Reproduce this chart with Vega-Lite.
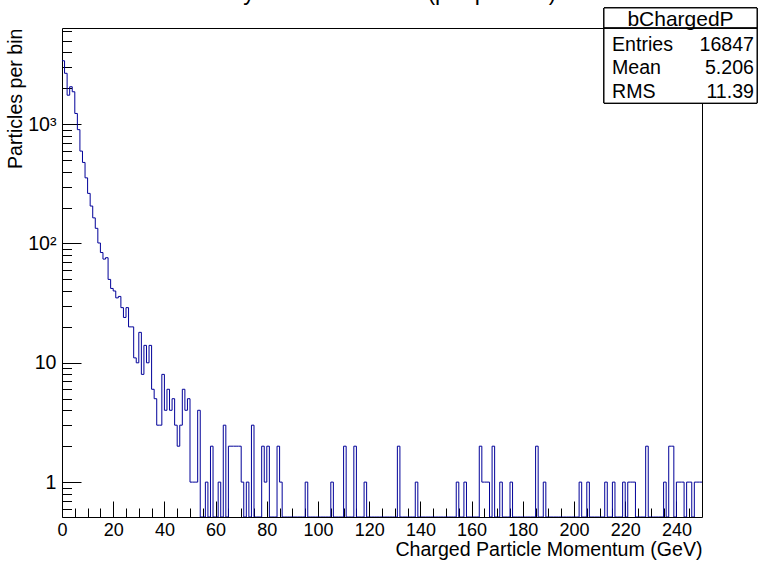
{
  "$schema": "https://vega.github.io/schema/vega-lite/v6.json",
  "width": 640,
  "height": 489,
  "autosize": {"type": "none"},
  "padding": {"left": 62, "top": 28, "right": 60, "bottom": 44},
  "background": "white",
  "title": {"text": "Only b-hadron tracks (per particle)", "font": "Liberation Sans", "fontSize": 23, "fontWeight": "normal", "color": "black", "anchor": "middle", "frame": "group", "baseline": "alphabetic", "offset": -16},
  "config": {
    "font": "Liberation Sans",
    "view": {"stroke": "black", "strokeWidth": 1},
    "axis": {"labelFont": "Liberation Sans", "titleFont": "Liberation Sans", "labelColor": "black", "titleColor": "black", "tickColor": "black", "domain": false, "grid": false, "titleFontWeight": "normal", "labelFontSize": 19.6, "titleFontSize": 19.6}
  },
  "datasets": {
    "hist": [
      {"lo":0,"hi":1,"n":3400},{"lo":1,"hi":2,"n":2670},{"lo":2,"hi":3,"n":1750},{"lo":3,"hi":4,"n":2060},{"lo":4,"hi":5,"n":1870},
      {"lo":5,"hi":6,"n":1230},{"lo":6,"hi":7,"n":900},{"lo":7,"hi":8,"n":595},{"lo":8,"hi":9,"n":478},{"lo":9,"hi":10,"n":355},
      {"lo":10,"hi":11,"n":263},{"lo":11,"hi":12,"n":206},{"lo":12,"hi":13,"n":164},{"lo":13,"hi":14,"n":134},{"lo":14,"hi":15,"n":101},
      {"lo":15,"hi":16,"n":84},{"lo":16,"hi":17,"n":74},{"lo":17,"hi":18,"n":76},{"lo":18,"hi":19,"n":50},{"lo":19,"hi":20,"n":42},
      {"lo":20,"hi":21,"n":40},{"lo":21,"hi":22,"n":35},{"lo":22,"hi":23,"n":36},{"lo":23,"hi":24,"n":29},{"lo":24,"hi":25,"n":24},
      {"lo":25,"hi":26,"n":29},{"lo":26,"hi":27,"n":20},{"lo":27,"hi":28,"n":20},{"lo":28,"hi":29,"n":11},{"lo":29,"hi":30,"n":10},
      {"lo":30,"hi":31,"n":18},{"lo":31,"hi":32,"n":8},{"lo":32,"hi":33,"n":14},{"lo":33,"hi":34,"n":10},{"lo":34,"hi":35,"n":14},
      {"lo":35,"hi":36,"n":6},{"lo":36,"hi":37,"n":5},{"lo":37,"hi":38,"n":3},{"lo":38,"hi":39,"n":3},{"lo":39,"hi":40,"n":8},
      {"lo":40,"hi":41,"n":4},{"lo":41,"hi":42,"n":6},{"lo":42,"hi":43,"n":4},{"lo":43,"hi":44,"n":5},{"lo":44,"hi":45,"n":3},
      {"lo":45,"hi":46,"n":2},{"lo":46,"hi":47,"n":3},{"lo":47,"hi":48,"n":6},{"lo":48,"hi":49,"n":4},{"lo":49,"hi":50,"n":5},
      {"lo":50,"hi":51,"n":1},{"lo":51,"hi":52,"n":1},{"lo":52,"hi":53,"n":1},{"lo":53,"hi":54,"n":4},{"lo":54,"hi":55,"n":0},
      {"lo":55,"hi":56,"n":0},{"lo":56,"hi":57,"n":1},{"lo":57,"hi":58,"n":0},{"lo":58,"hi":59,"n":2},{"lo":59,"hi":60,"n":0},
      {"lo":60,"hi":61,"n":0},{"lo":61,"hi":62,"n":1},{"lo":62,"hi":63,"n":0},{"lo":63,"hi":64,"n":3},{"lo":64,"hi":65,"n":0},
      {"lo":65,"hi":66,"n":2},{"lo":66,"hi":67,"n":2},{"lo":67,"hi":68,"n":2},{"lo":68,"hi":69,"n":2},{"lo":69,"hi":70,"n":2},
      {"lo":70,"hi":71,"n":1},{"lo":71,"hi":72,"n":0},{"lo":72,"hi":73,"n":1},{"lo":73,"hi":74,"n":0},{"lo":74,"hi":75,"n":3},
      {"lo":75,"hi":76,"n":0},{"lo":76,"hi":77,"n":0},{"lo":77,"hi":78,"n":0},{"lo":78,"hi":79,"n":2},{"lo":79,"hi":80,"n":1},
      {"lo":80,"hi":81,"n":2},{"lo":81,"hi":82,"n":0},{"lo":82,"hi":83,"n":0},{"lo":83,"hi":84,"n":0},{"lo":84,"hi":85,"n":2},
      {"lo":85,"hi":86,"n":1},{"lo":86,"hi":87,"n":0},{"lo":87,"hi":88,"n":0},{"lo":88,"hi":89,"n":0},{"lo":89,"hi":90,"n":0},
      {"lo":90,"hi":91,"n":0},{"lo":91,"hi":92,"n":0},{"lo":92,"hi":93,"n":0},{"lo":93,"hi":94,"n":0},{"lo":94,"hi":95,"n":0},
      {"lo":95,"hi":96,"n":1},{"lo":96,"hi":97,"n":0},{"lo":97,"hi":98,"n":0},{"lo":98,"hi":99,"n":0},{"lo":99,"hi":100,"n":0},
      {"lo":100,"hi":101,"n":0},{"lo":101,"hi":102,"n":0},{"lo":102,"hi":103,"n":0},{"lo":103,"hi":104,"n":0},{"lo":104,"hi":105,"n":0},
      {"lo":105,"hi":106,"n":1},{"lo":106,"hi":107,"n":0},{"lo":107,"hi":108,"n":0},{"lo":108,"hi":109,"n":0},{"lo":109,"hi":110,"n":0},
      {"lo":110,"hi":111,"n":2},{"lo":111,"hi":112,"n":0},{"lo":112,"hi":113,"n":0},{"lo":113,"hi":114,"n":0},{"lo":114,"hi":115,"n":2},
      {"lo":115,"hi":116,"n":0},{"lo":116,"hi":117,"n":0},{"lo":117,"hi":118,"n":0},{"lo":118,"hi":119,"n":1},{"lo":119,"hi":120,"n":0},
      {"lo":120,"hi":121,"n":0},{"lo":121,"hi":122,"n":0},{"lo":122,"hi":123,"n":0},{"lo":123,"hi":124,"n":0},{"lo":124,"hi":125,"n":0},
      {"lo":125,"hi":126,"n":0},{"lo":126,"hi":127,"n":0},{"lo":127,"hi":128,"n":0},{"lo":128,"hi":129,"n":0},{"lo":129,"hi":130,"n":0},
      {"lo":130,"hi":131,"n":0},{"lo":131,"hi":132,"n":2},{"lo":132,"hi":133,"n":0},{"lo":133,"hi":134,"n":0},{"lo":134,"hi":135,"n":0},
      {"lo":135,"hi":136,"n":0},{"lo":136,"hi":137,"n":0},{"lo":137,"hi":138,"n":0},{"lo":138,"hi":139,"n":1},{"lo":139,"hi":140,"n":0},
      {"lo":140,"hi":141,"n":0},{"lo":141,"hi":142,"n":0},{"lo":142,"hi":143,"n":0},{"lo":143,"hi":144,"n":0},{"lo":144,"hi":145,"n":0},
      {"lo":145,"hi":146,"n":0},{"lo":146,"hi":147,"n":0},{"lo":147,"hi":148,"n":0},{"lo":148,"hi":149,"n":0},{"lo":149,"hi":150,"n":0},
      {"lo":150,"hi":151,"n":0},{"lo":151,"hi":152,"n":0},{"lo":152,"hi":153,"n":0},{"lo":153,"hi":154,"n":0},{"lo":154,"hi":155,"n":1},
      {"lo":155,"hi":156,"n":0},{"lo":156,"hi":157,"n":0},{"lo":157,"hi":158,"n":1},{"lo":158,"hi":159,"n":0},{"lo":159,"hi":160,"n":0},
      {"lo":160,"hi":161,"n":0},{"lo":161,"hi":162,"n":0},{"lo":162,"hi":163,"n":0},{"lo":163,"hi":164,"n":2},{"lo":164,"hi":165,"n":1},
      {"lo":165,"hi":166,"n":1},{"lo":166,"hi":167,"n":1},{"lo":167,"hi":168,"n":0},{"lo":168,"hi":169,"n":2},{"lo":169,"hi":170,"n":0},
      {"lo":170,"hi":171,"n":0},{"lo":171,"hi":172,"n":1},{"lo":172,"hi":173,"n":0},{"lo":173,"hi":174,"n":0},{"lo":174,"hi":175,"n":0},
      {"lo":175,"hi":176,"n":1},{"lo":176,"hi":177,"n":0},{"lo":177,"hi":178,"n":0},{"lo":178,"hi":179,"n":0},{"lo":179,"hi":180,"n":0},
      {"lo":180,"hi":181,"n":0},{"lo":181,"hi":182,"n":0},{"lo":182,"hi":183,"n":0},{"lo":183,"hi":184,"n":0},{"lo":184,"hi":185,"n":0},
      {"lo":185,"hi":186,"n":2},{"lo":186,"hi":187,"n":0},{"lo":187,"hi":188,"n":0},{"lo":188,"hi":189,"n":1},{"lo":189,"hi":190,"n":0},
      {"lo":190,"hi":191,"n":0},{"lo":191,"hi":192,"n":0},{"lo":192,"hi":193,"n":0},{"lo":193,"hi":194,"n":0},{"lo":194,"hi":195,"n":0},
      {"lo":195,"hi":196,"n":0},{"lo":196,"hi":197,"n":0},{"lo":197,"hi":198,"n":0},{"lo":198,"hi":199,"n":0},{"lo":199,"hi":200,"n":0},
      {"lo":200,"hi":201,"n":0},{"lo":201,"hi":202,"n":0},{"lo":202,"hi":203,"n":1},{"lo":203,"hi":204,"n":0},{"lo":204,"hi":205,"n":0},
      {"lo":205,"hi":206,"n":1},{"lo":206,"hi":207,"n":0},{"lo":207,"hi":208,"n":0},{"lo":208,"hi":209,"n":0},{"lo":209,"hi":210,"n":0},
      {"lo":210,"hi":211,"n":0},{"lo":211,"hi":212,"n":0},{"lo":212,"hi":213,"n":1},{"lo":213,"hi":214,"n":0},{"lo":214,"hi":215,"n":0},
      {"lo":215,"hi":216,"n":1},{"lo":216,"hi":217,"n":0},{"lo":217,"hi":218,"n":0},{"lo":218,"hi":219,"n":0},{"lo":219,"hi":220,"n":1},
      {"lo":220,"hi":221,"n":0},{"lo":221,"hi":222,"n":1},{"lo":222,"hi":223,"n":1},{"lo":223,"hi":224,"n":1},{"lo":224,"hi":225,"n":0},
      {"lo":225,"hi":226,"n":0},{"lo":226,"hi":227,"n":0},{"lo":227,"hi":228,"n":0},{"lo":228,"hi":229,"n":2},{"lo":229,"hi":230,"n":0},
      {"lo":230,"hi":231,"n":0},{"lo":231,"hi":232,"n":0},{"lo":232,"hi":233,"n":0},{"lo":233,"hi":234,"n":0},{"lo":234,"hi":235,"n":0},
      {"lo":235,"hi":236,"n":1},{"lo":236,"hi":237,"n":0},{"lo":237,"hi":238,"n":2},{"lo":238,"hi":239,"n":2},{"lo":239,"hi":240,"n":0},
      {"lo":240,"hi":241,"n":1},{"lo":241,"hi":242,"n":1},{"lo":242,"hi":243,"n":1},{"lo":243,"hi":244,"n":0},{"lo":244,"hi":245,"n":1},
      {"lo":245,"hi":246,"n":1},{"lo":246,"hi":247,"n":0},{"lo":247,"hi":248,"n":1},{"lo":248,"hi":249,"n":1},{"lo":249,"hi":250,"n":1}
    ],
    "stats": [
      {"row": 0, "label": "bChargedP", "value": ""},
      {"row": 1, "label": "Entries", "value": "16847"},
      {"row": 2, "label": "Mean", "value": "5.206"},
      {"row": 3, "label": "RMS", "value": "11.39"}
    ]
  },
  "layer": [
    {
      "layer": [
        {
          "data": {"name": "hist"},
          "transform": [{"fold": ["lo", "hi"], "as": ["edge", "p"]}],
          "mark": {"type": "line", "interpolate": "linear", "invalid": "show", "color": "#000099", "strokeWidth": 1, "clip": true},
          "encoding": {
            "x": {"field": "p", "type": "quantitative", "scale": {"domain": [0, 250], "nice": false, "zero": false},
              "axis": {"orient": "bottom", "values": [0, 20, 40, 60, 80, 100, 120, 140, 160, 180, 200, 220, 240], "tickSize": -16, "labelPadding": 20, "labelFontSize": 18, "labelFlush": false, "title": "Charged Particle Momentum (GeV)", "titleAnchor": "end", "titlePadding": 1}},
            "y": {"field": "n", "type": "quantitative", "scale": {"type": "log", "domain": [0.51, 6400], "nice": false, "clamp": true},
              "axis": {"orient": "left", "values": [1, 10, 100, 1000], "labelExpr": "datum.value == 1 ? '1' : datum.value == 10 ? '10' : datum.value == 100 ? '10²' : '10³'", "tickSize": -19, "labelPadding": 25, "title": "Particles per bin", "titleAnchor": "end", "titlePadding": 2}},
            "order": [{"field": "p", "type": "quantitative"}, {"field": "edge", "type": "nominal"}]
          }
        },
        {
          "data": {"values": [{"p": 0, "n": 1}]},
          "mark": {"type": "point", "opacity": 0},
          "encoding": {
            "x": {"field": "p", "type": "quantitative", "scale": {"domain": [0, 250], "nice": false, "zero": false},
              "axis": {"orient": "bottom", "values": [5, 10, 15, 25, 30, 35, 45, 50, 55, 65, 70, 75, 85, 90, 95, 105, 110, 115, 125, 130, 135, 145, 150, 155, 165, 170, 175, 185, 190, 195, 205, 210, 215, 225, 230, 235, 245], "tickSize": -9, "labels": false, "title": null}},
            "y": {"field": "n", "type": "quantitative", "scale": {"type": "log", "domain": [0.51, 6400], "nice": false, "clamp": true},
              "axis": {"orient": "left", "values": [0.6, 0.7, 0.8, 0.9, 2, 3, 4, 5, 6, 7, 8, 9, 20, 30, 40, 50, 60, 70, 80, 90, 200, 300, 400, 500, 600, 700, 800, 900, 2000, 3000, 4000, 5000, 6000], "tickSize": -9.5, "labels": false, "title": null}}
          }
        }
      ],
      "resolve": {"axis": {"x": "independent", "y": "independent"}}
    },
    {
      "data": {"name": "stats"},
      "layer": [
        {
          "mark": {"type": "rect", "fill": "white", "stroke": "black", "strokeWidth": 1},
          "encoding": {
            "x": {"datum": 0, "type": "quantitative", "scale": {"domain": [0, 1], "range": [542, 695]}, "axis": null},
            "x2": {"datum": 1},
            "y": {"datum": -0.55, "type": "quantitative", "scale": {"domain": [0, 3], "range": [-7, 64]}, "axis": null},
            "y2": {"datum": 3.47}
          }
        },
        {
          "mark": {"type": "rule", "color": "black", "strokeWidth": 1},
          "encoding": {
            "x": {"datum": 0, "type": "quantitative"},
            "x2": {"datum": 1},
            "y": {"datum": 0.3, "type": "quantitative"}
          }
        },
        {
          "transform": [{"filter": "datum.row == 0"}],
          "mark": {"type": "text", "font": "Liberation Sans", "fontSize": 21, "align": "center", "baseline": "middle", "color": "black", "dy": -1},
          "encoding": {
            "x": {"datum": 0.5, "type": "quantitative"},
            "y": {"field": "row", "type": "quantitative"},
            "text": {"field": "label"}
          }
        },
        {
          "transform": [{"filter": "datum.row > 0"}],
          "mark": {"type": "text", "font": "Liberation Sans", "fontSize": 19.6, "align": "left", "baseline": "middle", "color": "black", "dx": 8},
          "encoding": {
            "x": {"datum": 0, "type": "quantitative"},
            "y": {"field": "row", "type": "quantitative"},
            "text": {"field": "label"}
          }
        },
        {
          "transform": [{"filter": "datum.row > 0"}],
          "mark": {"type": "text", "font": "Liberation Sans", "fontSize": 19.6, "align": "right", "baseline": "middle", "color": "black", "dx": -3},
          "encoding": {
            "x": {"datum": 1, "type": "quantitative"},
            "y": {"field": "row", "type": "quantitative"},
            "text": {"field": "value"}
          }
        }
      ]
    }
  ],
  "resolve": {"scale": {"x": "independent", "y": "independent"}}
}
